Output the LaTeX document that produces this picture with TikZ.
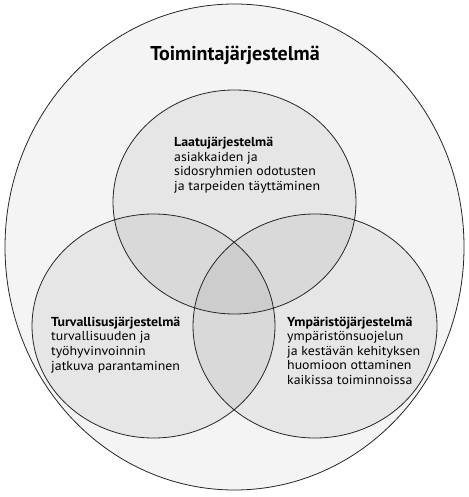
\documentclass[tikz,border=0pt]{standalone}
\usepackage{fontspec}
\setmainfont{PT Sans}[FakeStretch=1.065]
\newfontfamily\titlefont{PT Sans}
\begin{document}
\begin{tikzpicture}[x=1pt,y=-1pt,
  ring/.style={draw=black!85,line width=0.8pt},
  shade/.style={fill=black,fill opacity=0.055},
  txt/.style={anchor=base west,align=left,inner sep=0pt,font=\fontsize{13}{14.6}\selectfont},
  title/.style={anchor=base,inner sep=0pt,font=\titlefont\fontsize{20}{24}\selectfont\bfseries}]
\useasboundingbox (0,0) rectangle (468,497);
% fills
\fill[black!4.5] (234.5,247) ellipse [x radius=229.5pt, y radius=243pt];
\fill[shade] (234.5,202) ellipse [x radius=121.5pt, y radius=112pt];
\fill[shade] (153.5,326) ellipse [x radius=121.5pt, y radius=112pt];
\fill[shade] (315,326) ellipse [x radius=122pt, y radius=112pt];
% outlines
\draw[ring] (234.5,247) ellipse [x radius=229.5pt, y radius=243pt];
\draw[ring] (234.5,202) ellipse [x radius=121.5pt, y radius=112pt];
\draw[ring] (153.5,326) ellipse [x radius=121.5pt, y radius=112pt];
\draw[ring] (315,326) ellipse [x radius=122pt, y radius=112pt];
% texts (anchored at the baseline of the last line)
\node[title] (toim) at (235,61) {Toimintajärjestelmä};
\node[txt] (laatu) at (174,190.5) {\textbf{Laatujärjestelmä}\\asiakkaiden ja\\sidosryhmien odotusten\\ja tarpeiden täyttäminen};
\node[txt] (turva) at (51,370) {\textbf{Turvallisusjärjestelmä}\\turvallisuuden ja\\työhyvinvoinnin\\jatkuva parantaminen};
\node[txt] (ymp) at (287,384.5) {\textbf{Ympäristöjärjestelmä}\\ympäristönsuojelun\\ja kestävän kehityksen\\huomioon ottaminen\\kaikissa toiminnoissa};
\end{tikzpicture}
\end{document}
